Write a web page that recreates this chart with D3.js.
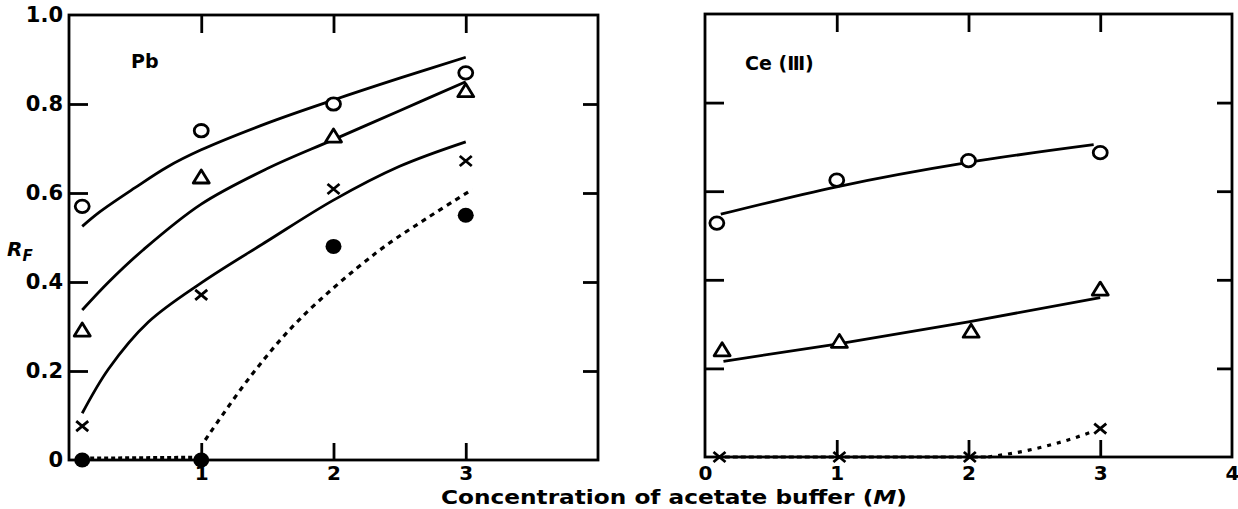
<!DOCTYPE html>
<html>
<head>
<meta charset="utf-8">
<script src="https://cdn.jsdelivr.net/npm/d3@7"></script>
<style>
  body { margin: 0; background: #fff; }
  text { font-family: "DejaVu Sans", Lato, sans-serif; font-weight: 700; fill: #000; }
</style>
</head>
<body>
<div class="canvas"></div>
<script>
// Pb panel: measured points (x = M acetate buffer, y = RF)
const pbCircle = [[0.1, 0.57], [1, 0.74], [2, 0.80], [3, 0.87]];
const pbTriangle = [[0.1, 0.292], [1, 0.636], [2, 0.728], [3, 0.83]];
const pbCross = [[0.1, 0.076], [1, 0.371], [2, 0.609], [3, 0.672]];
const pbFilled = [[0.1, 0.0], [1, 0.0], [2, 0.48], [3, 0.55]];

// Pb panel: hand-drawn curves
const pbCircleFit = [[0.1, 0.525], [0.23, 0.557], [0.5, 0.612], [0.74, 0.658], [1.0, 0.697], [1.5, 0.757], [2.0, 0.809], [2.5, 0.858], [3.0, 0.905]];
const pbTriangleFit = [[0.1, 0.337], [0.3, 0.40], [0.56, 0.472], [1.0, 0.575], [1.5, 0.655], [2.0, 0.72], [2.5, 0.785], [3.0, 0.85]];
const pbCrossFit = [[0.1, 0.105], [0.3, 0.205], [0.6, 0.31], [1.0, 0.398], [1.5, 0.492], [2.0, 0.584], [2.5, 0.66], [3.0, 0.715]];
const pbFilledFlat = [[0.16, 0.004], [0.94, 0.006]];
const pbFilledFit = [[1.03, 0.045], [1.37, 0.187], [1.74, 0.315], [2.32, 0.465], [2.72, 0.546], [3.05, 0.608]];

// Ce(III) panel
const ceCircle = [[0.09, 0.528], [1, 0.625], [2, 0.669], [3, 0.687]];
const ceTriangle = [[0.13, 0.242], [1.02, 0.261], [2.02, 0.284], [3, 0.379]];
const ceCross = [[0.11, 0.0], [1.02, 0.0], [2.01, 0.0], [3, 0.064]];

const ceCircleFit = [[0.12, 0.548], [1.0, 0.61], [2.0, 0.665], [2.95, 0.705]];
const ceTriangleFit = [[0.14, 0.216], [1.0, 0.255], [2.0, 0.305], [3.0, 0.36]];
const ceCrossFit = [[0.15, 0.0], [2.15, 0.0], [2.45, 0.015], [2.75, 0.038], [2.94, 0.057]];

const yTicks = [0.2, 0.4, 0.6, 0.8];
const yLabelValues = [0, 0.2, 0.4, 0.6, 0.8, 1.0];
const pbXLabels = [1, 2, 3];
const ceXLabels = [0, 1, 2, 3, 4];

const svg = d3.select(".canvas")
  .append("svg")
  .attr("width", 1238)
  .attr("height", 509);

const ink = "#000";

function panel(left, right, top, bottom) {
  const x = d3.scaleLinear().domain([0, 4]).range([left, right]);
  const y = d3.scaleLinear().domain([0, 1]).range([bottom, top]);
  const g = svg.append("g");

  // inward ticks on all four sides
  g.append("g").attr("transform", `translate(0,${top})`)
    .call(d3.axisTop(x).tickValues([1, 2, 3]).tickSize(-18).tickFormat(""));
  g.append("g").attr("transform", `translate(0,${bottom})`)
    .call(d3.axisBottom(x).tickValues([1, 2, 3]).tickSize(-17).tickFormat(""));
  g.append("g").attr("transform", `translate(${left},0)`)
    .call(d3.axisLeft(y).tickValues(yTicks).tickSize(-19).tickFormat(""));
  g.append("g").attr("transform", `translate(${right},0)`)
    .call(d3.axisRight(y).tickValues(yTicks).tickSize(-15).tickFormat(""));
  g.selectAll(".domain").remove();
  g.selectAll(".tick line").attr("stroke", ink).attr("stroke-width", 2.8);

  g.append("rect")
    .attr("x", left).attr("y", top)
    .attr("width", right - left).attr("height", bottom - top)
    .attr("fill", "none").attr("stroke", ink).attr("stroke-width", 2.8);

  return { g, x, y };
}

const pb = panel(69, 598, 15, 460);
const ce = panel(705, 1232, 14, 457);

function drawCurve(p, pts, curve, dash) {
  const line = d3.line().x(d => p.x(d[0])).y(d => p.y(d[1])).curve(curve);
  p.g.append("path")
    .attr("d", line(pts))
    .attr("fill", "none")
    .attr("stroke", ink)
    .attr("stroke-width", dash ? 3.2 : 2.8)
    .attr("stroke-linecap", "butt")
    .attr("stroke-dasharray", dash || null);
}

function drawMarks(p, pts, kind) {
  const sel = p.g.append("g").selectAll("g").data(pts).join("g")
    .attr("transform", d => `translate(${p.x(d[0])},${p.y(d[1])})`);
  if (kind === "circle") {
    sel.append("ellipse").attr("rx", 7).attr("ry", 6.2)
      .attr("fill", "#fff").attr("stroke", ink).attr("stroke-width", 2.8);
  } else if (kind === "filled") {
    sel.append("ellipse").attr("rx", 8).attr("ry", 7.5)
      .attr("fill", ink);
  } else if (kind === "triangle") {
    sel.append("path").attr("d", "M-8,6L8,6L0,-7Z")
      .attr("fill", "#fff").attr("stroke", ink).attr("stroke-width", 2.8)
      .attr("stroke-linejoin", "round");
  } else {
    sel.append("path").attr("d", "M-6,-5L6,5M-6,5L6,-5")
      .attr("stroke", ink).attr("stroke-width", 2.8);
  }
}

// Pb curves and marks
drawCurve(pb, pbCircleFit, d3.curveCatmullRom);
drawCurve(pb, pbTriangleFit, d3.curveCatmullRom);
drawCurve(pb, pbCrossFit, d3.curveCatmullRom);
drawCurve(pb, pbFilledFlat, d3.curveLinear, "4,3");
drawCurve(pb, pbFilledFit, d3.curveCatmullRom, "5,5");
drawMarks(pb, pbCircle, "circle");
drawMarks(pb, pbTriangle, "triangle");
drawMarks(pb, pbCross, "cross");
drawMarks(pb, pbFilled, "filled");

// Ce(III) curves and marks
drawCurve(ce, ceCircleFit, d3.curveMonotoneX);
drawCurve(ce, ceTriangleFit, d3.curveMonotoneX);
drawCurve(ce, ceCrossFit.slice(0, 2), d3.curveLinear, "5,3");
drawCurve(ce, ceCrossFit.slice(1), d3.curveMonotoneX, "4,6");
drawMarks(ce, ceCircle, "circle");
drawMarks(ce, ceTriangle, "triangle");
drawMarks(ce, ceCross, "cross");

// y labels (left panel only)
svg.append("g").attr("transform", `translate(69,0)`)
  .call(d3.axisLeft(pb.y).tickValues(yLabelValues).tickSize(0).tickPadding(6)
    .tickFormat(d => d === 0 ? "0" : d3.format(".1f")(d)))
  .call(a => a.select(".domain").remove())
  .selectAll("text").attr("font-size", 21).attr("font-family", null);

// x labels
svg.append("g").attr("transform", `translate(0,460)`)
  .call(d3.axisBottom(pb.x).tickValues(pbXLabels).tickSize(0).tickPadding(6).tickFormat(d3.format("d")))
  .call(a => a.select(".domain").remove())
  .selectAll("text").attr("font-size", 20).attr("font-family", null);
svg.append("g").attr("transform", `translate(0,457)`)
  .call(d3.axisBottom(ce.x).tickValues(ceXLabels).tickSize(0).tickPadding(9).tickFormat(d3.format("d")))
  .call(a => a.select(".domain").remove())
  .selectAll("text").attr("font-size", 20).attr("font-family", null);

// panel names
svg.append("text").attr("x", 131).attr("y", 68).attr("font-size", 19).text("Pb");
svg.append("text").attr("x", 745).attr("y", 70).attr("font-size", 19).text("Ce (Ⅲ)");

// R_F
const rf = svg.append("text").attr("x", 7).attr("y", 256).attr("font-size", 20).attr("font-style", "italic");
rf.append("tspan").text("R");
rf.append("tspan").attr("font-size", 15).attr("dy", 5).text("F");

// x axis title
const title = svg.append("text").attr("x", 441).attr("y", 504).attr("font-size", 19)
  .attr("textLength", 466).attr("lengthAdjust", "spacingAndGlyphs");
title.append("tspan").text("Concentration of acetate buffer (");
title.append("tspan").attr("font-style", "italic").text("M");
title.append("tspan").text(")");
</script>
</body>
</html>
